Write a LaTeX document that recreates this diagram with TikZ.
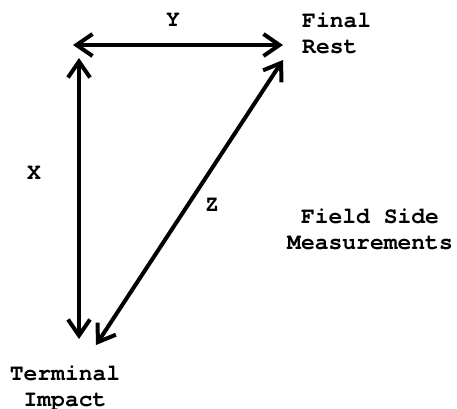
\documentclass[tikz,border=0pt]{standalone}
\usepackage{fontspec}
\setmainfont{texgyrecursor}[Extension=.otf, UprightFont=*-regular, BoldFont=*-bold]
\usetikzlibrary{arrows.meta}
\begin{document}
\begin{tikzpicture}[x=1pt,y=-1pt,
  lbl/.style={font=\fontsize{23}{26}\selectfont\bfseries, inner sep=0pt},
  meas/.style={line width=4pt, {Straight Barb[length=16pt,width=22pt]}-{Straight Barb[length=16pt,width=22pt]}}]
\useasboundingbox (0,0) rectangle (457,408);
\coordinate (tl) at (73,45);
\coordinate (tr) at (283,45);
\coordinate (vt) at (79,58);
\coordinate (vb) at (79,339);
\coordinate (dt) at (283,60);
\coordinate (db) at (96,345);
\draw[meas] (tl) -- (tr);
\draw[meas] (vt) -- (vb);
\draw[meas] (dt) -- (db);
\node[lbl] (y) at (173,20) {Y};
\node[lbl] (x) at (34,173) {X};
\node[lbl] (z) at (212,205) {Z};
\node[lbl, align=left, anchor=west] (final) at (302,33) {Final\\Rest};
\node[lbl, align=center] (field) at (370,229) {Field Side\\Measurements};
\node[lbl, align=center] (term) at (65,388) {Terminal\\Impact};
\end{tikzpicture}
\end{document}
